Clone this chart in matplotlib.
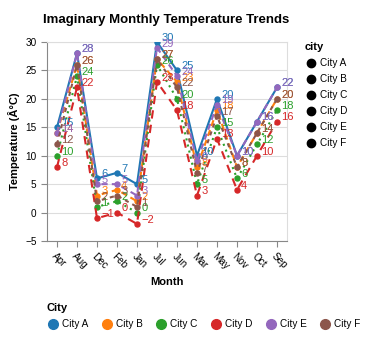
import matplotlib.pyplot as plt
from matplotlib.lines import Line2D

plt.rcParams['font.family'] = ['Liberation Sans', 'DejaVu Sans']

months = ['Apr', 'Aug', 'Dec', 'Feb', 'Jan', 'Jul', 'Jun', 'Mar', 'May', 'Nov', 'Oct', 'Sep']
cities = ['City A', 'City B', 'City C', 'City D', 'City E', 'City F']

city_a = [15, 28, 6, 7, 5, 30, 25, 10, 20, 10, 16, 22]
city_b = [14, 26, 3, 4, 2, 27, 23, 8, 18, 8, 14, 20]
city_c = [10, 24, 1, 2, 0, 26, 20, 5, 15, 6, 12, 18]
city_d = [8, 22, -1, 0, -2, 23, 18, 3, 13, 4, 10, 16]
city_e = [14, 28, 5, 5, 3, 29, 24, 9, 19, 10, 16, 22]
city_f = [12, 26, 2, 3, 1, 27, 22, 7, 17, 8, 14, 20]

series = [city_a, city_b, city_c, city_d, city_e, city_f]
colors = ['#1f77b4', '#ff7f0e', '#2ca02c', '#d62728', '#9467bd', '#8c564b']
dashes = [None, (3, 2), (1, 2), (4, 3), (3, 2), (2, 2)]

fig = plt.figure(figsize=(3.71, 3.44), dpi=100)
ax = fig.add_axes([47/371, 103/344, 240/371, 199/344])

x = range(len(months))
# lines, then the text labels in city order (later cities cover earlier ones)
for i in [3, 2, 5, 1, 4, 0]:
    ln, = ax.plot(x, series[i], color=colors[i], lw=1.5, marker='o', ms=3.6, zorder=3 + i * 0.1)
    if dashes[i] is not None:
        ln.set_dashes(dashes[i])
for i, vals in enumerate(series):
    for xi, v in zip(x, vals):
        ax.annotate(str(v).replace('-', '\u2212'), (xi, v), xytext=(3, 3), textcoords='offset points',
                    color=colors[i], fontsize=8, ha='left', va='center', zorder=5 + i * 0.1)

ax.set_xlim(-0.5, len(months) - 0.5)
ax.set_ylim(-5, 30)
ax.set_yticks(range(-5, 31, 5))
ax.set_yticklabels([str(t).replace('-', '\u2212') for t in range(-5, 31, 5)])
ax.set_xticks(list(x))
ax.set_xticklabels(months, rotation=-45, ha='left', va='top', rotation_mode='anchor')
ax.tick_params(labelsize=7.2, color='#888888', length=4, labelcolor='#000000')
ax.grid(axis='y', color='#dddddd', lw=0.8)
ax.set_axisbelow(True)
for s in ['top', 'right']:
    ax.spines[s].set_color('#dddddd')
for s in ['left', 'bottom']:
    ax.spines[s].set_color('#888888')

ax.set_xlabel('Month', fontsize=8, fontweight='bold', labelpad=4)
ax.set_ylabel('Temperature (Â°C)', fontsize=8, fontweight='bold', labelpad=4)
fig.text(0.449, 1 - 20/344, 'Imaginary Monthly Temperature Trends', ha='center', va='center',
         fontsize=9.5, fontweight='bold')

# right legend (shape)
fig.text(305/371, 1 - 47/344, 'city', fontsize=8, fontweight='bold', va='center')
for k, c in enumerate(cities):
    yy = 1 - (63 + 16 * k) / 344
    fig.add_artist(Line2D([311/371], [yy], marker='o', color='black', ms=6, transform=fig.transFigure))
    fig.text(320/371, yy, c, fontsize=7.2, va='center')

# bottom legend (colour)
fig.text(47/371, 1 - 308/344, 'City', fontsize=8, fontweight='bold', va='center')
xs = [53, 107, 161, 216, 271, 325]
for k, c in enumerate(cities):
    yy = 1 - 324/344
    fig.add_artist(Line2D([xs[k]/371], [yy], marker='o', color=colors[k], ms=7, transform=fig.transFigure))
    fig.text((xs[k] + 9)/371, yy, c, fontsize=7.2, va='center')

fig.savefig('out.png', dpi=100)
